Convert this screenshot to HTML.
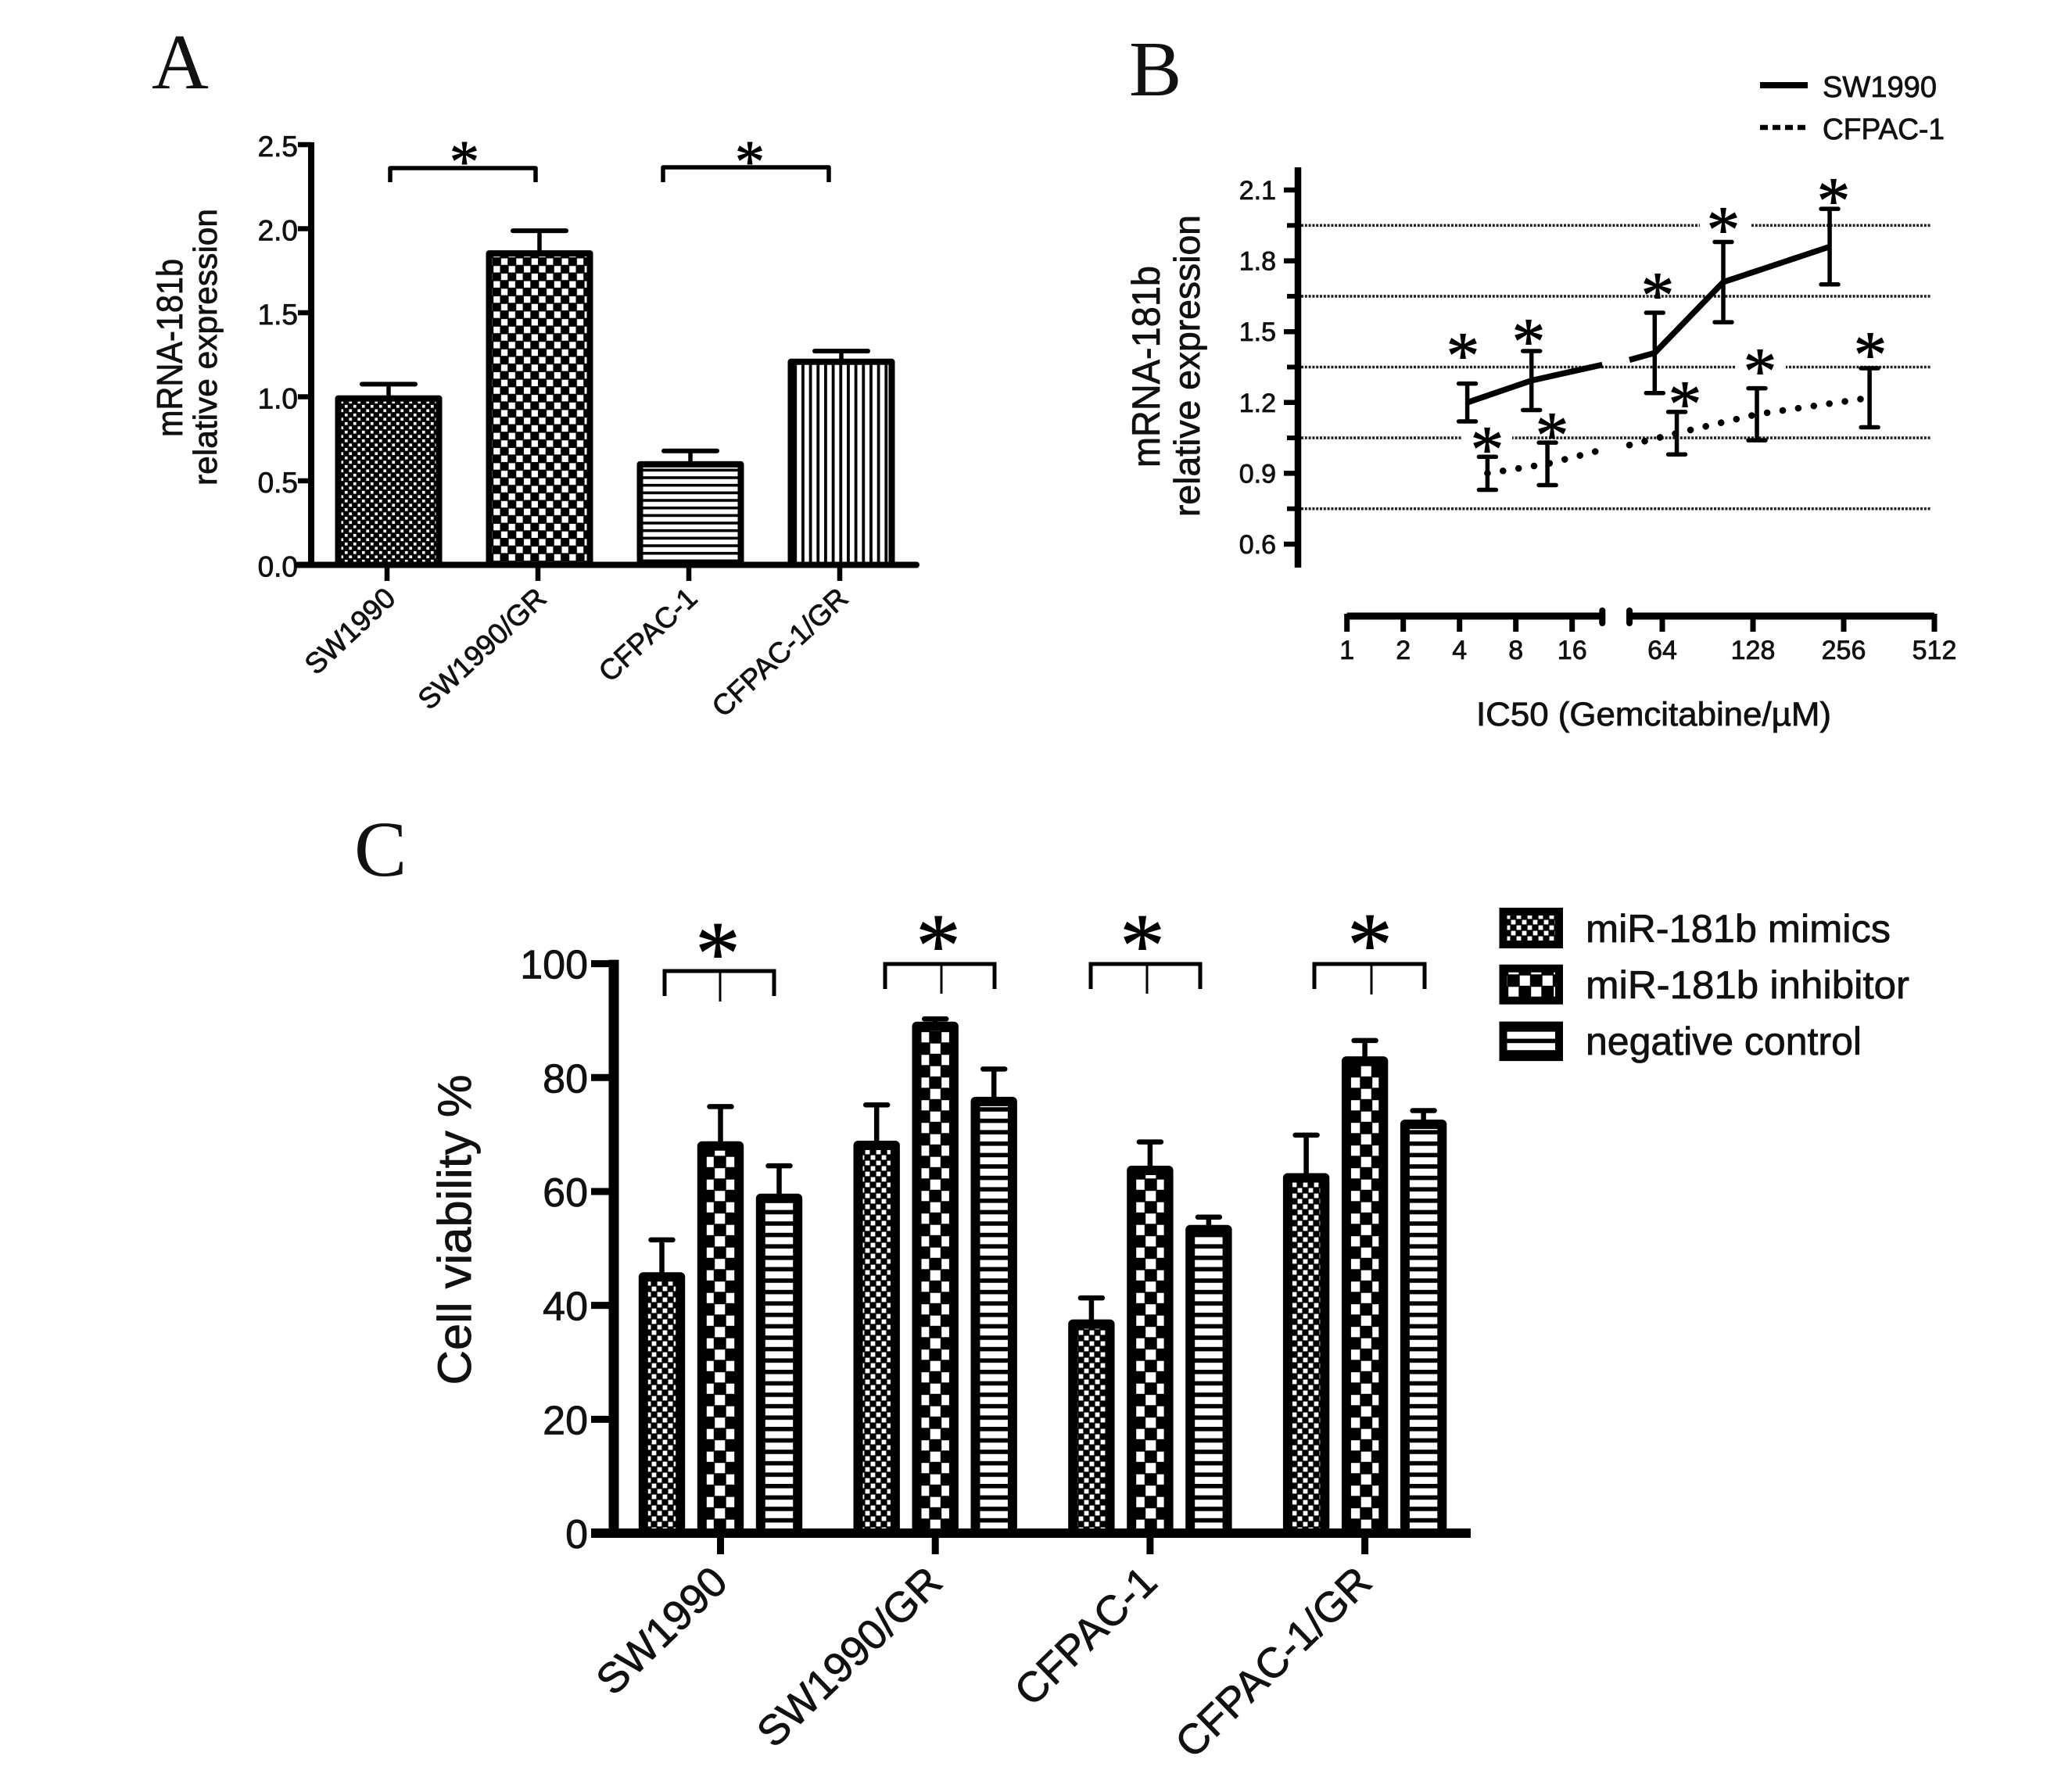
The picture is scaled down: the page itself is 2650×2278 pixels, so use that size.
<!DOCTYPE html>
<html lang="en">
<head>
<meta charset="utf-8">
<title>miR-181b expression and cell viability</title>
<style>
html,body{margin:0;padding:0;background:#fff;}
svg{display:block;}
text{font-family:"Liberation Sans",sans-serif;fill:#111;stroke:#111;stroke-width:0.8px;}
.letter{font-family:"Liberation Serif",serif;font-size:101px;stroke:none;}
.star{font-family:"Liberation Serif",serif;text-anchor:middle;fill:#000;stroke:#000;stroke-width:1px;}
.s-a{font-size:76px;}
.s-b{font-size:85px;}
.s-c{font-size:115px;}
</style>
</head>
<body>
<svg id="figure" xmlns="http://www.w3.org/2000/svg" width="2650" height="2278" viewBox="0 0 2650 2278">
<defs>
  <pattern id="a-fine" patternUnits="userSpaceOnUse" width="11" height="11"><rect width="11" height="11" fill="#000"/><rect x="0.9" y="0.9" width="3.7" height="3.7" fill="#fff"/><rect x="6.4" y="6.4" width="3.7" height="3.7" fill="#fff"/></pattern>
  <pattern id="a-check" patternUnits="userSpaceOnUse" width="19.4" height="19.4"><rect width="19.4" height="19.4" fill="#000"/><rect x="0.7" y="0.7" width="8.3" height="8.3" fill="#fff"/><rect x="10.4" y="10.4" width="8.3" height="8.3" fill="#fff"/></pattern>
  <pattern id="a-h" patternUnits="userSpaceOnUse" width="9.67" height="9.67"><rect width="9.67" height="9.67" fill="#fff"/><rect y="0" width="9.67" height="3.6" fill="#000"/></pattern>
  <pattern id="a-v" patternUnits="userSpaceOnUse" width="9.67" height="9.67"><rect width="9.67" height="9.67" fill="#fff"/><rect x="0" width="3.8" height="9.67" fill="#000"/></pattern>
  <pattern id="c-fine" patternUnits="userSpaceOnUse" width="14" height="14"><rect width="14" height="14" fill="#000"/><rect x="0.6" y="0.6" width="5.8" height="5.8" fill="#fff"/><rect x="7.6" y="7.6" width="5.8" height="5.8" fill="#fff"/></pattern>
  <pattern id="c-check" patternUnits="userSpaceOnUse" width="29" height="29"><rect width="29" height="29" fill="#000"/><rect x="0.7" y="0.7" width="13.1" height="13.1" fill="#fff"/><rect x="15.2" y="15.2" width="13.1" height="13.1" fill="#fff"/></pattern>
  <pattern id="c-h" patternUnits="userSpaceOnUse" width="14.6" height="14.6"><rect width="14.6" height="14.6" fill="#fff"/><rect width="14.6" height="5.6" fill="#000"/></pattern>
</defs>
<rect width="2650" height="2278" fill="#fff"/>

<text class="letter" x="194" y="113">A</text>
<text class="letter" x="1444" y="122">B</text>
<text class="letter" x="453" y="1120">C</text>

<!-- Panel A -->
<g id="panel-a">
  <g id="a-marks"></g>
  <g id="a-axes"></g>
  <text transform="translate(233,445) rotate(-90)" text-anchor="middle" font-size="46" textLength="228" lengthAdjust="spacingAndGlyphs">mRNA-181b</text>
  <text transform="translate(277,444) rotate(-90)" text-anchor="middle" font-size="42" textLength="354" lengthAdjust="spacingAndGlyphs">relative expression</text>
  <path d="M499,233V215H685V233" fill="none" stroke="#000" stroke-width="5.5" stroke-linejoin="round"/>
  <path d="M848,233V214H1060V233" fill="none" stroke="#000" stroke-width="5.5" stroke-linejoin="round"/>
  <text class="star s-a" x="594" y="232">*</text>
  <text class="star s-a" x="959" y="232">*</text>
</g>

<!-- Panel B -->
<g id="panel-b">
  <g id="b-grid"></g>
  <rect x="2174" y="280" width="66" height="18" fill="#fff"/>
  <rect x="2220" y="460" width="64" height="18" fill="#fff"/>
  <rect x="1869" y="551" width="65" height="18" fill="#fff"/>
  <g id="b-axes"></g>
  <g id="b-marks"></g>
  <text transform="translate(1483,469) rotate(-90)" text-anchor="middle" font-size="50" textLength="258" lengthAdjust="spacingAndGlyphs">mRNA-181b</text>
  <text transform="translate(1534,468) rotate(-90)" text-anchor="middle" font-size="46" textLength="386" lengthAdjust="spacingAndGlyphs">relative expression</text>
  <text x="1888" y="928" font-size="43" textLength="454" lengthAdjust="spacingAndGlyphs">IC50 (Gemcitabine/µM)</text>
  <line x1="2251" y1="109" x2="2312" y2="109" stroke="#000" stroke-width="8"/>
  <line x1="2251" y1="163" x2="2312" y2="163" stroke="#000" stroke-width="6.5" stroke-dasharray="10 6"/>
  <text x="2331" y="124" font-size="38" textLength="146" lengthAdjust="spacingAndGlyphs">SW1990</text>
  <text x="2331" y="178" font-size="38" textLength="156" lengthAdjust="spacingAndGlyphs">CFPAC-1</text>
  <text class="star s-b" x="1871" y="483">*</text>
  <text class="star s-b" x="1955" y="465">*</text>
  <text class="star s-b" x="1902" y="603">*</text>
  <text class="star s-b" x="1985" y="585">*</text>
  <text class="star s-b" x="2120" y="406">*</text>
  <text class="star s-b" x="2204" y="322">*</text>
  <text class="star s-b" x="2345" y="285">*</text>
  <text class="star s-b" x="2155" y="545">*</text>
  <text class="star s-b" x="2251" y="503">*</text>
  <text class="star s-b" x="2392" y="482">*</text>
</g>

<!-- Panel C -->
<g id="panel-c">
  <g id="c-marks"></g>
  <g id="c-axes"></g>
  <text transform="translate(602,1573) rotate(-90)" text-anchor="middle" font-size="60" textLength="397" lengthAdjust="spacingAndGlyphs">Cell viability %</text>
  <path d="M850,1274V1242H990V1274" fill="none" stroke="#000" stroke-width="5"/>
  <line x1="921" y1="1242" x2="921" y2="1281" stroke="#000" stroke-width="3"/>
  <path d="M1132,1265V1233H1272V1265" fill="none" stroke="#000" stroke-width="5"/>
  <line x1="1204" y1="1233" x2="1204" y2="1271" stroke="#000" stroke-width="3"/>
  <path d="M1395,1265V1233H1535V1265" fill="none" stroke="#000" stroke-width="5"/>
  <line x1="1467" y1="1233" x2="1467" y2="1271" stroke="#000" stroke-width="3"/>
  <path d="M1681,1265V1233H1822V1265" fill="none" stroke="#000" stroke-width="5"/>
  <line x1="1754" y1="1233" x2="1754" y2="1272" stroke="#000" stroke-width="3"/>
  <text class="star s-c" x="918" y="1258">*</text>
  <text class="star s-c" x="1200" y="1248">*</text>
  <text class="star s-c" x="1461" y="1248">*</text>
  <text class="star s-c" x="1752" y="1247">*</text>

  <rect x="1922.5" y="1166" width="71.5" height="42" fill="url(#c-fine)" stroke="#000" stroke-width="10"/>
  <rect x="1922.5" y="1238.7" width="71.5" height="41" fill="url(#c-check)" stroke="#000" stroke-width="10"/>
  <rect x="1922.5" y="1311.6" width="71.5" height="40.5" fill="url(#c-h)" stroke="#000" stroke-width="10"/>
  <text x="2028" y="1205" font-size="50" textLength="390" lengthAdjust="spacingAndGlyphs">miR-181b mimics</text>
  <text x="2028" y="1277" font-size="50" textLength="414" lengthAdjust="spacingAndGlyphs">miR-181b inhibitor</text>
  <text x="2028" y="1349" font-size="50" textLength="353" lengthAdjust="spacingAndGlyphs">negative control</text>
</g>
</svg>

<script>
// Panel A data
const aCategories = ['SW1990', 'SW1990/GR', 'CFPAC-1', 'CFPAC-1/GR'];
const aMeans = [0.99, 1.853, 0.598, 1.208];
const aErrors = [0.085, 0.135, 0.08, 0.064];
const aPatterns = ['a-fine', 'a-check', 'a-h', 'a-v'];
const aYTicks = [0, 0.5, 1, 1.5, 2, 2.5];

// Panel B data
const bSwDoses = [4.4, 9.7, 60.4, 102, 230];
const bSwMeans = [1.2, 1.293, 1.41, 1.71, 1.86];
const bSwErrors = [0.08, 0.125, 0.17, 0.17, 0.16];
const bSwBreakDoses = [23.2, 49.8];
const bSwBreakValues = [1.36, 1.38];
const bCfDoses = [5.64, 11.8, 71.5, 131.9, 312];
const bCfMeans = [0.9, 0.94, 1.07, 1.15, 1.22];
const bCfErrors = [0.07, 0.09, 0.09, 0.11, 0.125];
const bCfBreakDoses = [23.2, 49.8];
const bCfBreakValues = [1.0, 1.02];
const bYTicks = [0.6, 0.9, 1.2, 1.5, 1.8, 2.1];
const bGridValues = [0.75, 1.05, 1.35, 1.65, 1.95];
const bXTicksLow = [1, 2, 4, 8, 16];
const bXTicksHigh = [64, 128, 256, 512];
const bBreakLow = 23.2;
const bBreakHigh = 49.8;

// Panel C data
const cCategories = ['SW1990', 'SW1990/GR', 'CFPAC-1', 'CFPAC-1/GR'];
const cMimics = [45, 68.1, 36.7, 62.4];
const cInhibitor = [68, 89, 63.7, 82.9];
const cControl = [58.8, 75.8, 53.3, 71.8];
const cMimicsErr = [6.5, 7.1, 4.6, 7.5];
const cInhibitorErr = [6.9, 1.3, 5, 3.6];
const cControlErr = [5.7, 5.7, 2.2, 2.4];
const cYTicks = [0, 20, 40, 60, 80, 100];

const NS = 'http://www.w3.org/2000/svg';
function mk(parent, tag, attrs, txt) {
  const el = document.createElementNS(NS, tag);
  for (const k in attrs) el.setAttribute(k, attrs[k]);
  if (txt !== undefined) el.textContent = txt;
  parent.appendChild(el);
  return el;
}
function slug(s) { return String(s).toLowerCase().replace(/[^a-z0-9]+/g, '-'); }

/* ---------- Panel A ---------- */
const yA = v => 722.5 - 215 * v;
const xA = i => 497 + 193 * i;
const aMarks = document.getElementById('a-marks');
const aAxes = document.getElementById('a-axes');
aCategories.forEach((c, i) => {
  const cx = xA(i);
  const stem = mk(aMarks, 'line', {x1: cx, x2: cx, y1: yA(aMeans[i]), y2: yA(aMeans[i] + aErrors[i]), stroke: '#000', 'stroke-width': 5.5});
  
  
  const cap = mk(aMarks, 'line', {x1: cx - 34, x2: cx + 34, y1: yA(aMeans[i] + aErrors[i]), y2: yA(aMeans[i] + aErrors[i]), stroke: '#000', 'stroke-width': 6, 'stroke-linecap': 'round'});
  
  
  const bar = mk(aMarks, 'rect', {x: cx - 64.5, y: yA(aMeans[i]), width: 129, height: yA(0) - yA(aMeans[i]), fill: 'url(#' + aPatterns[i] + ')', stroke: '#000', 'stroke-width': 8, 'stroke-linejoin': 'round'});
  
  
  const tick = mk(aAxes, 'line', {x1: cx - 2, x2: cx - 2, y1: yA(0), y2: 743, stroke: '#000', 'stroke-width': 6.5});
  
  
  const lab = mk(aAxes, 'text', {transform: 'translate(' + (cx + 11) + ',768) rotate(-43)', 'text-anchor': 'end', 'font-size': 37}, c);
  
  
});
aYTicks.forEach(t => {
  const tk = mk(aAxes, 'line', {x1: 381, x2: 399, y1: yA(t), y2: yA(t), stroke: '#000', 'stroke-width': 6.5});
  
  
  const lb = mk(aAxes, 'text', {x: 381, y: yA(t) + 15, 'text-anchor': 'end', 'font-size': 37}, t.toFixed(1));
  
  
});
const aYAxis = mk(aAxes, 'line', {x1: 398, x2: 398, y1: yA(2.5) - 3, y2: yA(0), stroke: '#000', 'stroke-width': 8});


const aXAxis = mk(aAxes, 'line', {x1: 381, x2: 1172, y1: yA(0), y2: yA(0), stroke: '#000', 'stroke-width': 8, 'stroke-linecap': 'round'});



/* ---------- Panel B ---------- */
const yB = v => 696 - (v - 0.6) * 302;
const xB = d => d < 32 ? 1722.7 + 72 * Math.log2(d) : 2126 + 116 * Math.log2(d / 64);
const bGrid = document.getElementById('b-grid');
const bAxes = document.getElementById('b-axes');
const bMarks = document.getElementById('b-marks');
bGridValues.forEach(v => {
  const g = mk(bGrid, 'line', {x1: 1664, x2: 2469, y1: yB(v), y2: yB(v), stroke: '#222', 'stroke-width': 3.6, 'stroke-dasharray': '3 1.8'});
  
  
  const mt = mk(bAxes, 'line', {x1: 1646, x2: 1660, y1: yB(v), y2: yB(v), stroke: '#000', 'stroke-width': 6});
  
  
});
bYTicks.forEach(t => {
  const tk = mk(bAxes, 'line', {x1: 1642, x2: 1660, y1: yB(t), y2: yB(t), stroke: '#000', 'stroke-width': 6.5});
  
  
  const lb = mk(bAxes, 'text', {x: 1632, y: yB(t) + 12, 'text-anchor': 'end', 'font-size': 34}, t.toFixed(1));
  
  
});
const bYAxis = mk(bAxes, 'line', {x1: 1660, x2: 1660, y1: 214, y2: 726, stroke: '#000', 'stroke-width': 8.5});


const bXLow = mk(bAxes, 'line', {x1: xB(1), x2: xB(bBreakLow), y1: 788, y2: 788, stroke: '#000', 'stroke-width': 9});


const bXHigh = mk(bAxes, 'line', {x1: xB(bBreakHigh), x2: xB(512), y1: 788, y2: 788, stroke: '#000', 'stroke-width': 9});


[bBreakLow, bBreakHigh].forEach((d, i) => {
  const bk = mk(bAxes, 'line', {x1: xB(d), x2: xB(d), y1: 781, y2: 797, stroke: '#000', 'stroke-width': 8, 'stroke-linecap': 'round'});
  
  
});
bXTicksLow.concat(bXTicksHigh).forEach(t => {
  const tk = mk(bAxes, 'line', {x1: xB(t), x2: xB(t), y1: 785, y2: 808, stroke: '#000', 'stroke-width': 7});
  
  
  const lb = mk(bAxes, 'text', {x: xB(t), y: 843, 'text-anchor': 'middle', 'font-size': 34}, String(t));
  
  
});
function bLinePath(doses, means, brkD, brkV) {
  const low = [], high = [];
  doses.forEach((d, i) => { (d < 32 ? low : high).push([xB(d), yB(means[i])]); });
  low.push([xB(brkD[0]), yB(brkV[0])]);
  high.unshift([xB(brkD[1]), yB(brkV[1])]);
  const p = a => 'M' + a.map(q => q[0].toFixed(1) + ',' + q[1].toFixed(1)).join('L');
  return p(low) + p(high);
}
const bSwLine = mk(bMarks, 'path', {d: bLinePath(bSwDoses, bSwMeans, bSwBreakDoses, bSwBreakValues), fill: 'none', stroke: '#000', 'stroke-width': 7.5});


const bCfLine = mk(bMarks, 'path', {d: bLinePath(bCfDoses, bCfMeans, bCfBreakDoses, bCfBreakValues), fill: 'none', stroke: '#000', 'stroke-width': 8.5, 'stroke-linecap': 'round', 'stroke-dasharray': '0.1 20'});


function bErrors(doses, means, errs, name) {
  doses.forEach((d, i) => {
    const x = xB(d), top = yB(means[i] + errs[i]), bot = yB(means[i] - errs[i]);
    const eb = mk(bMarks, 'path', {d: 'M' + (x - 11) + ',' + top + 'H' + (x + 11) + 'M' + x + ',' + top + 'V' + bot + 'M' + (x - 11) + ',' + bot + 'H' + (x + 11), fill: 'none', stroke: '#000', 'stroke-width': 5.5, 'stroke-linecap': 'round'});
    
    
  });
}
bErrors(bSwDoses, bSwMeans, bSwErrors, 'sw1990');
bErrors(bCfDoses, bCfMeans, bCfErrors, 'cfpac-1');

/* ---------- Panel C ---------- */
const yC = v => 1961 - 7.284 * v;
const xC = i => 921.5 + 274.7 * i;
const cMarks = document.getElementById('c-marks');
const cAxes = document.getElementById('c-axes');
const cSeries = [cMimics, cInhibitor, cControl];
const cSeriesErr = [cMimicsErr, cInhibitorErr, cControlErr];
const cSeriesNames = ['mimics', 'inhibitor', 'control'];
const cSeriesFill = ['c-fine', 'c-check', 'c-h'];
cCategories.forEach((c, i) => {
  cSeries.forEach((vals, j) => {
    const cx = xC(i) + (j - 1) * 75;
    const v = vals[i], e = cSeriesErr[j][i];
    const stem = mk(cMarks, 'line', {x1: cx, x2: cx, y1: yC(v), y2: yC(v + e), stroke: '#000', 'stroke-width': 6.5});
    
    
    const cap = mk(cMarks, 'line', {x1: cx - 14, x2: cx + 14, y1: yC(v + e), y2: yC(v + e), stroke: '#000', 'stroke-width': 6.5, 'stroke-linecap': 'round'});
    
    
    const bar = mk(cMarks, 'rect', {x: cx - 23.7, y: yC(v), width: 47.4, height: yC(0) - yC(v), fill: 'url(#' + cSeriesFill[j] + ')', stroke: '#000', 'stroke-width': 12, 'stroke-linejoin': 'round'});
    
    
  });
  const tick = mk(cAxes, 'line', {x1: xC(i), x2: xC(i), y1: yC(0), y2: 1988, stroke: '#000', 'stroke-width': 9});
  
  
  const lab = mk(cAxes, 'text', {transform: 'translate(' + (xC(i) + 12) + ',2027) rotate(-44)', 'text-anchor': 'end', 'font-size': 54}, c);
  
  
});
cYTicks.forEach(t => {
  const tk = mk(cAxes, 'line', {x1: 756, x2: 784, y1: yC(t), y2: yC(t), stroke: '#000', 'stroke-width': 9});
  
  
  const lb = mk(cAxes, 'text', {x: 752, y: yC(t) + 19, 'text-anchor': 'end', 'font-size': 52}, String(t));
  
  
});
const cYAxis = mk(cAxes, 'line', {x1: 785, x2: 785, y1: yC(100) - 5, y2: yC(0), stroke: '#000', 'stroke-width': 13});


const cXAxis = mk(cAxes, 'line', {x1: 756, x2: 1881, y1: yC(0), y2: yC(0), stroke: '#000', 'stroke-width': 12});


</script>
</body>
</html>
